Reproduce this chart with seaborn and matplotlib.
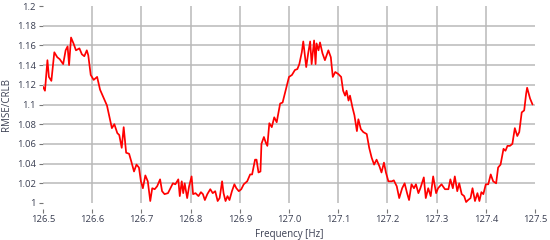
import numpy as np
import pandas as pd
import matplotlib
matplotlib.use("Agg")
import matplotlib.pyplot as plt
import seaborn as sns

freq = [126.500, 126.504, 126.509, 126.512, 126.517, 126.523, 126.529, 126.534, 126.541, 126.546,
        126.550, 126.553, 126.557, 126.562, 126.567, 126.574, 126.579, 126.584, 126.589, 126.592,
        126.597, 126.603, 126.610, 126.616, 126.623, 126.630, 126.637, 126.640, 126.645, 126.651,
        126.655, 126.660, 126.664, 126.669, 126.675, 126.679, 126.685, 126.690, 126.695,
        126.699, 126.703, 126.708, 126.713, 126.718, 126.722, 126.727, 126.732, 126.738, 126.742,
        126.747, 126.754, 126.759, 126.764, 126.769, 126.775, 126.778, 126.782, 126.785, 126.788,
        126.793, 126.797, 126.802, 126.805, 126.810, 126.816, 126.821, 126.825, 126.829, 126.834,
        126.840, 126.845, 126.850, 126.855, 126.859, 126.864, 126.867, 126.871, 126.875, 126.879,
        126.884, 126.889, 126.893, 126.898, 126.903, 126.908, 126.915, 126.921, 126.925, 126.931,
        126.934, 126.938, 126.942,
        126.944, 126.949, 126.953, 126.956, 126.960, 126.965, 126.970, 126.975, 126.982, 126.987,
        126.994, 127.000, 127.006, 127.012, 127.017, 127.021, 127.026, 127.029, 127.035, 127.039,
        127.043, 127.046, 127.051, 127.054, 127.056, 127.060, 127.063, 127.068, 127.073, 127.080,
        127.085, 127.089, 127.094, 127.100, 127.106, 127.110, 127.114, 127.117, 127.121, 127.124,
        127.129, 127.133, 127.138, 127.141, 127.146, 127.151, 127.158, 127.163, 127.168, 127.173,
        127.178, 127.184, 127.188, 127.193, 127.197, 127.202, 127.209, 127.213, 127.219, 127.224,
        127.230, 127.235, 127.240, 127.244, 127.249, 127.254, 127.258, 127.263, 127.267, 127.274,
        127.278, 127.283, 127.288, 127.293, 127.299, 127.303, 127.310, 127.317, 127.324, 127.328,
        127.333, 127.337, 127.342, 127.346, 127.351, 127.356, 127.360, 127.364, 127.369, 127.373,
        127.378, 127.383, 127.387, 127.391, 127.395, 127.400, 127.405, 127.410, 127.415, 127.421,
        127.425, 127.430, 127.436, 127.440, 127.444, 127.449, 127.454, 127.459, 127.464, 127.468,
        127.473, 127.478, 127.482, 127.484, 127.490, 127.495]

ratio = [1.118, 1.114, 1.145, 1.128, 1.124, 1.153, 1.148, 1.146, 1.141, 1.155,
         1.159, 1.140, 1.168, 1.162, 1.155, 1.157, 1.151, 1.149, 1.155, 1.150,
         1.130, 1.125, 1.128, 1.115, 1.107, 1.099, 1.083, 1.076, 1.080, 1.071,
         1.069, 1.056, 1.077, 1.051, 1.050, 1.043, 1.032, 1.039, 1.036,
         1.022, 1.015, 1.028, 1.022, 1.002, 1.015, 1.014, 1.017, 1.024, 1.012,
         1.009, 1.010, 1.015, 1.020, 1.019, 1.024, 1.007, 1.022, 1.010, 1.020,
         1.005, 1.017, 1.027, 1.009, 1.010, 1.007, 1.011, 1.009, 1.003, 1.009,
         1.014, 1.010, 1.012, 1.002, 1.005, 1.022, 1.010, 1.002, 1.007, 1.003,
         1.012, 1.019, 1.015, 1.012, 1.014, 1.019, 1.022, 1.029, 1.029, 1.044,
         1.044, 1.031, 1.032,
         1.060, 1.067, 1.061, 1.058, 1.081, 1.077, 1.087, 1.082, 1.101, 1.102,
         1.116, 1.128, 1.130, 1.135, 1.136, 1.141, 1.153, 1.164, 1.138, 1.152,
         1.164, 1.141, 1.165, 1.141, 1.162, 1.155, 1.163, 1.152, 1.145, 1.155,
         1.148, 1.128, 1.133, 1.131, 1.128, 1.114, 1.109, 1.114, 1.104, 1.109,
         1.097, 1.089, 1.073, 1.085, 1.075, 1.072, 1.070, 1.056, 1.046, 1.039,
         1.044, 1.037, 1.031, 1.041, 1.031, 1.022, 1.022, 1.023, 1.017, 1.005,
         1.015, 1.020, 1.010, 1.003, 1.019, 1.015, 1.019, 1.010, 1.015, 1.026,
         1.005, 1.015, 1.007, 1.027, 1.010, 1.015, 1.019, 1.014, 1.014, 1.024,
         1.015, 1.027, 1.012, 1.020, 1.009, 1.007, 1.001, 1.003, 1.005, 1.015,
         1.002, 1.010, 1.002, 1.011, 1.009, 1.019, 1.019, 1.029, 1.022, 1.020,
         1.036, 1.039, 1.055, 1.053, 1.058, 1.058, 1.060, 1.076, 1.068, 1.072,
         1.092, 1.094, 1.111, 1.117, 1.106, 1.100]

x_ticks = [126.5, 126.6, 126.7, 126.8, 126.9, 127.0, 127.1, 127.2, 127.3, 127.4, 127.5]
x_tick_labels = ["126.5", "126.6", "126.7", "126.8", "126.9", "127.0", "127.1", "127.2", "127.3", "127.4", "127.5"]
y_ticks = [1.0, 1.02, 1.04, 1.06, 1.08, 1.1, 1.12, 1.14, 1.16, 1.18, 1.2]
y_tick_labels = ["1", "1.02", "1.04", "1.06", "1.08", "1.1", "1.12", "1.14", "1.16", "1.18", "1.2"]

df = pd.DataFrame({"Frequency [Hz]": freq, "RMSE/CRLB": ratio})

sns.set_style("white")
plt.rcParams["font.family"] = ["Open Sans", "DejaVu Sans"]

fig = plt.figure(figsize=(5.5, 2.4), dpi=100)
ax = fig.add_axes([43 / 550, 1 - 203 / 240, 492 / 550, 197 / 240])

sns.lineplot(data=df, x="Frequency [Hz]", y="RMSE/CRLB", ax=ax, color="#ff0000", lw=1.25, zorder=3)

ax.set_xlim(126.5, 127.5)
ax.set_ylim(1.0, 1.2)
ax.set_xticks(x_ticks)
ax.set_xticklabels(x_tick_labels)
ax.set_yticks(y_ticks)
ax.set_yticklabels(y_tick_labels)

grid_kw = dict(color="#b9b9b9", lw=1.1, zorder=1)
for xv in x_ticks[1:-1]:
    ax.axvline(xv, ymin=0, ymax=1.0, **grid_kw)
for yv in y_ticks[1:-1]:
    ax.axhline(yv, **grid_kw)

for s in ax.spines.values():
    s.set_visible(False)
ax.spines["bottom"].set_position(("outward", 4))

tick_color = "#3a3f52"
ax.tick_params(axis="x", direction="out", length=3, width=0.8, color="#777777",
               labelsize=6.8, labelcolor=tick_color, pad=2, bottom=True)
ax.tick_params(axis="y", direction="out", length=3, width=0.8, color="#777777",
               labelsize=6.8, labelcolor=tick_color, pad=2, left=True)

ax.set_xlabel("Frequency [Hz]", fontsize=7, color=tick_color, labelpad=3)
ax.set_ylabel("RMSE/CRLB", fontsize=7, color=tick_color, labelpad=4)

fig.savefig("out.png", dpi=100)
